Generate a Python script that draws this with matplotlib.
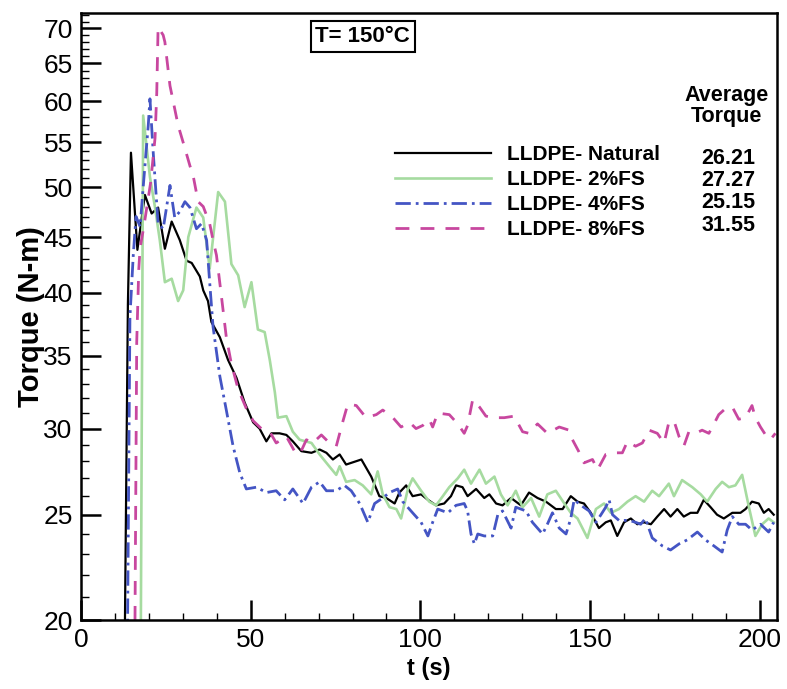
import matplotlib
matplotlib.use("Agg")
import matplotlib.pyplot as plt
from matplotlib.ticker import FixedLocator, NullFormatter

plt.rcParams['font.family'] = ['Liberation Sans', 'DejaVu Sans']

# LLDPE - Natural
t_nat = [12.8, 13.8, 14.7, 16.6, 18.8, 20.8, 22.7, 24.7, 26.7, 29.1, 31.1, 32.6, 35.0, 36.0,
         37.4, 38.4, 40.9, 43.3, 45.8, 48.2, 50.7, 52.6, 54.6, 56.1, 58.5, 60.5, 62.4, 64.9,
         67.9, 70.3, 72.3, 74.2, 76.2, 78.1, 82.6, 85.5, 87.9, 89.9, 92.4, 93.8, 95.8, 97.7,
         100.2, 102.2, 104.6, 107.0, 109.0, 110.5, 112.4, 113.9, 116.4, 118.8, 120.3, 122.3,
         124.2, 126.7, 129.6, 132.0, 134.5, 137.0, 139.9, 141.9, 144.3, 146.3, 148.2, 150.2,
         152.6, 154.6, 156.1, 158.0, 160.0, 162.0, 163.9, 165.9, 167.9, 169.8, 171.8, 173.7,
         175.7, 177.6, 179.6, 181.6, 183.5, 185.5, 187.4, 189.4, 191.9, 194.3, 195.8, 197.7,
         199.7, 201.2, 202.6, 204.1]
v_nat = [18, 39, 53.8, 43.8, 49.2, 47.3, 47.9, 43.9, 46.5, 44.7, 42.8, 42.6, 41.4, 40.2,
         39.3, 37.6, 36.4, 34.7, 33.4, 31.7, 30.4, 30.0, 29.2, 29.7, 29.7, 29.6, 29.2, 28.6,
         28.5, 28.7, 28.5, 28.1, 28.4, 27.8, 28.1, 27.1, 26.0, 25.9, 25.6, 26.2, 26.6, 26.0,
         26.1, 25.8, 25.5, 25.6, 26.0, 26.6, 26.5, 26.0, 26.4, 25.9, 26.1, 25.6,
         25.5, 25.9, 25.5, 26.2, 25.9, 25.7, 25.3, 25.3, 26.0, 25.7, 25.6, 25.1,
         24.3, 24.6, 24.7, 23.9, 24.6, 24.8, 24.5, 24.6, 24.5, 24.9, 25.3, 24.9,
         25.3, 24.9, 25.1, 25.1, 25.8, 25.4, 25.0, 24.8, 25.1, 25.1, 25.3, 25.7,
         25.6, 25.1, 25.3, 25.0]

# LLDPE - 2%FS
t_2fs = [17.3, 18.3, 20.3, 21.8, 23.2, 24.7, 26.7, 28.6, 30.1, 31.6, 34.0, 36.0, 37.9, 40.4,
         42.4, 44.3, 46.3, 48.2, 50.2, 52.1, 54.1, 55.6, 57.1, 58.0, 60.5, 62.4, 64.4, 67.9,
         70.3, 72.7, 75.2, 76.2, 78.1, 80.6, 83.0, 85.5, 87.4, 88.9, 90.9, 92.9, 94.3, 96.3,
         97.7, 100.2, 102.6, 104.6, 106.6, 108.5, 111.0, 112.9, 114.9, 117.4, 119.3, 121.8,
         123.7, 125.7, 128.1, 130.1, 132.6, 135.0, 137.4, 139.9, 142.4, 144.3, 146.3, 149.2,
         151.7, 154.1, 156.1, 158.5, 161.0, 163.4, 165.9, 168.3, 170.3, 173.2, 174.7, 177.1,
         180.1, 182.6, 184.5, 187.0, 188.9, 190.9, 192.8, 194.8, 196.8, 198.7, 200.7, 202.6,
         204.1]
v_2fs = [12, 58.2, 51.1, 47.9, 44.7, 40.9, 41.2, 39.3, 40.2, 45.0, 47.9, 46.9, 42.1, 49.5,
         48.5, 42.5, 41.5, 38.8, 40.9, 37.0, 36.8, 34.7, 32.4, 30.7, 30.8, 29.8, 29.3, 29.1,
         28.4, 27.8, 27.2, 27.7, 26.8, 26.9, 26.6, 26.1, 27.4, 26.1, 25.4, 25.3, 24.8, 26.4,
         27.0, 26.3, 25.7, 25.5, 26.0, 26.5, 27.0, 27.5, 26.7, 27.5, 26.7, 27.1,
         26.1, 25.5, 26.3, 25.4, 25.9, 24.9, 26.1, 26.3, 25.6, 25.1, 24.8, 23.8,
         25.3, 25.6, 25.1, 25.3, 25.7, 26.0, 25.7, 26.3, 26.0, 26.7, 26.0, 26.9,
         26.5, 26.1, 25.7, 26.4, 26.8, 26.5, 26.6, 27.2, 25.4, 23.9, 24.5, 24.8,
         24.6]

# LLDPE - 4%FS
t_4fs = [13.6, 14.4, 15.4, 16.2, 17.4, 18.3, 19.8, 20.3, 21.3, 22.7, 24.2, 26.2, 27.6, 29.1,
         30.6, 32.1, 34.0, 35.5, 37.0, 38.0, 38.9, 40.9, 42.8, 44.8, 46.8, 48.7, 51.7, 54.6,
         57.5, 60.0, 62.4, 65.4, 67.9, 70.3, 72.3, 75.2, 77.6, 79.6, 82.1, 84.5, 86.5, 88.9,
         90.9, 93.3, 94.8, 97.7, 100.2, 102.2, 103.6, 105.1, 108.1, 110.5, 112.9, 113.9,
         114.9, 115.9, 116.9, 118.8, 121.3, 122.8, 124.2, 126.7, 128.1, 131.1, 133.0, 136.0,
         137.4, 138.9, 140.9, 142.9, 144.3, 145.3, 147.3, 149.7, 151.7, 153.2, 154.6, 155.6,
         156.6, 158.5, 161.5, 163.4, 164.9, 166.3, 168.3, 171.3, 173.7, 176.2, 178.6, 181.6,
         184.0, 186.5, 188.9, 190.4, 191.9, 193.8, 195.8, 197.7, 200.2, 202.6, 204.1]
v_4fs = [18, 38, 43.4, 47, 46, 50, 57, 60.3, 53.6, 46.3, 45.8, 50.2, 46.9, 47.5,
         48.5, 47.9, 45.8, 46.3, 44.7, 40.5, 37.2, 33.5, 31.2, 28.9, 27.3, 26.4, 26.5, 26.2,
         26.3, 25.8, 26.4, 25.6, 26.5, 26.8, 26.3, 26.3, 26.6, 26.3, 25.6, 24.6, 25.6, 25.9,
         26.2, 26.4, 25.7, 25.1, 24.6, 23.9, 24.6, 25.3, 25.1, 25.5, 25.6, 25.2,
         24.0, 23.5, 24.0, 23.9, 23.9, 25.0, 25.2, 24.3, 25.4, 25.2, 24.6, 24.0,
         24.5, 25.1, 24.3, 24.0, 24.8, 25.8, 25.5, 25.2, 24.6, 25.0, 25.4, 25.8,
         25.0, 24.7, 24.7, 24.6, 24.5, 24.8, 23.8, 23.4, 23.2, 23.5, 23.7, 24.1,
         23.7, 23.4, 23.1, 24.2, 24.9, 24.5, 24.5, 24.2, 24.5, 24.1, 24.6]

# LLDPE - 8%FS
t_8fs = [15.8, 16.4, 17.0, 17.4, 18.5, 20.5, 21.8, 22.3, 22.7, 24.2, 24.7, 26.2, 28.6, 30.6,
         32.1, 33.0, 34.5, 36.0, 37.9, 38.9, 39.9, 41.4, 42.8, 44.3, 46.3, 48.7, 50.7, 53.1,
         55.6, 57.5, 60.5, 62.9, 64.4, 66.4, 68.3, 70.8, 73.2, 75.2, 77.2, 78.6, 81.1, 84.0,
         87.0, 88.9, 91.9, 94.3, 96.8, 98.7, 100.7, 102.6, 103.6, 105.1, 108.5, 111.0,
         112.9, 113.9, 115.4, 117.4, 119.3, 121.8, 124.7, 127.6, 130.1, 132.0, 134.5, 137.4,
         140.9, 143.8, 144.8, 146.6, 148.2, 150.7, 152.2, 154.6, 157.1, 159.5, 161.0, 163.4,
         165.4, 167.4, 169.8, 171.8, 173.2, 174.7, 176.2, 177.6, 179.1, 181.1, 183.0, 185.0,
         186.5, 187.9, 189.9, 191.9, 193.8, 195.8, 197.7, 198.7, 200.2, 201.7, 203.1, 204.6]
v_8fs = [18, 36, 42, 44, 46, 50.5, 55.5, 61, 70.2, 69.0, 68.0, 62.0, 57.0, 54.3,
         52.3, 51.3, 48.5, 48.0, 46.3, 44.7, 43.3, 39.6, 36.4, 34.4, 32.6, 31.3, 30.5, 30.0,
         29.8, 29.1, 29.5, 28.6, 28.4, 29.3, 29.1, 29.6, 29.1, 28.9, 30.5, 31.6, 31.5, 30.7,
         30.9, 31.2, 30.7, 30.1, 30.4, 30.0, 30.2, 30.6, 30.1, 31.0, 30.9, 30.3,
         29.7, 30.2, 31.9, 31.4, 30.8, 30.7, 30.7, 30.8, 29.8, 29.7, 30.3, 29.7,
         30.1, 29.9, 29.3, 28.6, 27.9, 28.1, 27.5, 28.4, 28.5, 28.5, 29.2, 28.9,
         29.1, 29.9, 29.7, 29.1, 30.4, 30.5, 29.5, 28.9, 29.8, 29.7, 29.9, 29.7,
         30.3, 30.9, 31.3, 31.4, 30.6, 30.7, 31.5, 30.7, 30.1, 29.6, 29.3, 29.7]

labels = ['LLDPE- Natural', 'LLDPE- 2%FS', 'LLDPE- 4%FS', 'LLDPE- 8%FS']
avg_torque = ['26.21', '27.27', '25.15', '31.55']
y_major = [20, 25, 30, 35, 40, 45, 50, 55, 60, 65, 70]
x_major = [0, 50, 100, 150, 200]

fig = plt.figure(figsize=(7.87, 6.89), dpi=100)
ax = fig.add_axes([0.103, 0.100, 0.884, 0.881])

ax.plot(t_nat, v_nat, color='black', lw=1.6, label=labels[0])
ax.plot(t_2fs, v_2fs, color='#a6dba0', lw=1.9, label=labels[1])
ax.plot(t_4fs, v_4fs, color='#4455c4', lw=2.0, dashes=(5.5, 1.8, 1, 1.8), label=labels[2])
ax.plot(t_8fs, v_8fs, color='#c8479f', lw=2.0, dashes=(5, 4), label=labels[3])

ax.set_yscale('log')
ax.set_xlim(0, 205)
ax.set_ylim(20, 72.3)
ax.yaxis.set_major_locator(FixedLocator(y_major))
ax.set_yticklabels([str(v) for v in y_major])
ax.yaxis.set_minor_locator(FixedLocator([v for v in range(21, 73) if v % 5 != 0]))
ax.yaxis.set_minor_formatter(NullFormatter())
ax.set_xticks(x_major)
ax.set_xticks(range(10, 205, 10), minor=True)

ax.tick_params(which='major', direction='in', length=14.5, width=1.8, labelsize=19, pad=6)
ax.tick_params(which='minor', direction='in', length=5, width=1.0)
ax.tick_params(axis='y', which='minor', length=6)
for s in ax.spines.values():
    s.set_linewidth(1.8)

ax.set_xlabel('t (s)', fontsize=17, fontweight='bold', labelpad=3)
ax.set_ylabel('Torque (N-m)', fontsize=21, fontweight='bold', labelpad=-1)

leg = ax.legend(loc='upper left', bbox_to_anchor=(0.451, 0.782), frameon=False,
                prop={'size': 15, 'weight': 'bold'}, handlelength=4.6, handletextpad=0.8,
                labelspacing=0.28, borderpad=0, borderaxespad=0)

ax.text(0.928, 0.847, 'Average\nTorque', transform=ax.transAxes, ha='center', va='center',
        fontsize=15.5, fontweight='bold', linespacing=1.0)
for i, a in enumerate(avg_torque):
    ax.text(0.930, 0.761 - i * 0.0368, a, transform=ax.transAxes, ha='center', va='center',
            fontsize=15.5, fontweight='bold')

ax.text(0.405, 0.962, 'T= 150°C', transform=ax.transAxes, ha='center', va='center',
        fontsize=16, fontweight='bold',
        bbox=dict(boxstyle='square,pad=0.22', fc='white', ec='black', lw=1.5))

fig.savefig('out.png', dpi=100)
